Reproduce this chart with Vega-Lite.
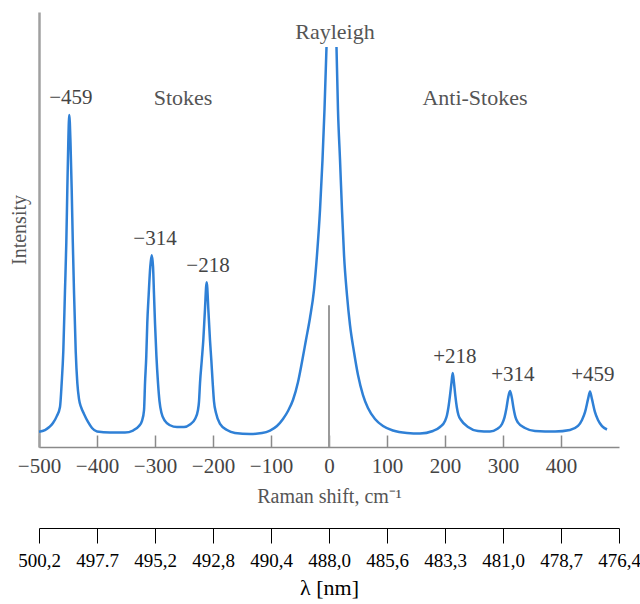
{
  "$schema": "https://vega.github.io/schema/vega-lite/v6.json",
  "width": 580,
  "height": 435,
  "autosize": {"type": "none"},
  "padding": {"left": 39, "top": 12, "right": 21, "bottom": 157},
  "background": "white",
  "config": {"view": {"stroke": null}},
  "datasets": {
    "spectrum": [
      {"seg":"a","s":-500,"v":3.52},{"seg":"a","s":-489.7,"v":3.9},{"seg":"a","s":-482.2,"v":4.6},{"seg":"a","s":-475.9,"v":5.5},
      {"seg":"a","s":-469.3,"v":7.1},{"seg":"a","s":-463.8,"v":9.2},{"seg":"a","s":-460.9,"v":14.7},{"seg":"a","s":-458.1,"v":22},
      {"seg":"a","s":-455.2,"v":36},{"seg":"a","s":-452.9,"v":47},{"seg":"a","s":-451.2,"v":59},{"seg":"a","s":-449.5,"v":70},
      {"seg":"a","s":-447.8,"v":76.3},{"seg":"a","s":-445.7,"v":70},{"seg":"a","s":-443.6,"v":59},{"seg":"a","s":-441.7,"v":47},
      {"seg":"a","s":-439.7,"v":36},{"seg":"a","s":-436.7,"v":22},{"seg":"a","s":-433.9,"v":14.7},{"seg":"a","s":-431.0,"v":11},
      {"seg":"a","s":-427.6,"v":9.2},{"seg":"a","s":-422.4,"v":7.6},{"seg":"a","s":-415.5,"v":5.75},{"seg":"a","s":-408.6,"v":4.37},
      {"seg":"a","s":-400,"v":3.56},{"seg":"a","s":-377.6,"v":3.33},{"seg":"a","s":-351.7,"v":3.33},{"seg":"a","s":-337.9,"v":3.79},
      {"seg":"a","s":-327.6,"v":4.83},{"seg":"a","s":-322.4,"v":6.0},{"seg":"a","s":-318.9,"v":8.5},{"seg":"a","s":-317.2,"v":14.7},
      {"seg":"a","s":-315.0,"v":21},{"seg":"a","s":-313.3,"v":28.5},{"seg":"a","s":-310.9,"v":35},{"seg":"a","s":-308.1,"v":41.5},
      {"seg":"a","s":-305.7,"v":44.1},{"seg":"a","s":-303.4,"v":41.5},{"seg":"a","s":-301.7,"v":35},{"seg":"a","s":-300,"v":28.5},
      {"seg":"a","s":-297.6,"v":21},{"seg":"a","s":-294.8,"v":14.7},{"seg":"a","s":-292.2,"v":10.5},{"seg":"a","s":-288.8,"v":7.8},
      {"seg":"a","s":-282.8,"v":6.0},{"seg":"a","s":-274.1,"v":5.0},{"seg":"a","s":-262.1,"v":4.6},{"seg":"a","s":-250,"v":4.6},
      {"seg":"a","s":-239.7,"v":5.17},{"seg":"a","s":-231,"v":6.44},{"seg":"a","s":-225.9,"v":8.5},{"seg":"a","s":-224.1,"v":10.5},
      {"seg":"a","s":-222.4,"v":14.7},{"seg":"a","s":-219.3,"v":20},{"seg":"a","s":-216.7,"v":24.6},{"seg":"a","s":-214.1,"v":31},
      {"seg":"a","s":-210.9,"v":37.9},{"seg":"a","s":-207.8,"v":31},{"seg":"a","s":-205.2,"v":24.6},{"seg":"a","s":-202.9,"v":20},
      {"seg":"a","s":-200.5,"v":14.7},{"seg":"a","s":-198.3,"v":10.5},{"seg":"a","s":-194.8,"v":7.8},{"seg":"a","s":-187.9,"v":5.29},
      {"seg":"a","s":-175.9,"v":3.91},{"seg":"a","s":-162.1,"v":3.22},{"seg":"a","s":-136.2,"v":2.99},{"seg":"a","s":-115.5,"v":3.22},
      {"seg":"a","s":-101.7,"v":3.79},{"seg":"a","s":-89.7,"v":4.83},{"seg":"a","s":-79.3,"v":6.44},{"seg":"a","s":-70.7,"v":8.28},
      {"seg":"a","s":-62.1,"v":10.8},{"seg":"a","s":-53.4,"v":14.94},{"seg":"a","s":-46.6,"v":19.54},{"seg":"a","s":-39.7,"v":24.6},
      {"seg":"a","s":-32.8,"v":29.66},{"seg":"a","s":-25.9,"v":36.09},{"seg":"a","s":-20.7,"v":44.14},{"seg":"a","s":-15.5,"v":54.48},
      {"seg":"a","s":-11.2,"v":66.0},{"seg":"a","s":-7.8,"v":77.47},{"seg":"a","s":-4.3,"v":91.95},
      {"seg":"b","s":12.9,"v":91.95},{"seg":"b","s":15.5,"v":77.47},{"seg":"b","s":19.0,"v":66.0},{"seg":"b","s":22.4,"v":54.48},
      {"seg":"b","s":25.9,"v":44.14},{"seg":"b","s":31.0,"v":34.94},{"seg":"b","s":36.2,"v":28.05},{"seg":"b","s":43.1,"v":21.84},
      {"seg":"b","s":50.0,"v":16.55},{"seg":"b","s":58.6,"v":11.95},{"seg":"b","s":67.2,"v":8.97},{"seg":"b","s":79.3,"v":6.44},
      {"seg":"b","s":93.1,"v":4.83},{"seg":"b","s":110.3,"v":3.79},{"seg":"b","s":134.5,"v":3.22},{"seg":"b","s":156.9,"v":3.1},
      {"seg":"b","s":179.3,"v":3.68},{"seg":"b","s":191.4,"v":4.6},{"seg":"b","s":200,"v":5.98},{"seg":"b","s":203.4,"v":7.3},
      {"seg":"b","s":206,"v":9.2},{"seg":"b","s":208.6,"v":11.8},{"seg":"b","s":211.2,"v":14.8},{"seg":"b","s":213.3,"v":17.0},
      {"seg":"b","s":215.5,"v":14.8},{"seg":"b","s":217.8,"v":11.8},{"seg":"b","s":220.3,"v":9.2},{"seg":"b","s":223.3,"v":7.3},
      {"seg":"b","s":227.6,"v":6.21},{"seg":"b","s":239.7,"v":4.6},{"seg":"b","s":256.9,"v":3.68},{"seg":"b","s":277.6,"v":3.56},
      {"seg":"b","s":289.7,"v":4.14},{"seg":"b","s":298.3,"v":5.29},{"seg":"b","s":302.6,"v":6.8},{"seg":"b","s":306.0,"v":8.97},
      {"seg":"b","s":309.1,"v":11.5},{"seg":"b","s":312.1,"v":12.87},{"seg":"b","s":315.0,"v":11.5},{"seg":"b","s":318.1,"v":8.97},
      {"seg":"b","s":321.6,"v":6.8},{"seg":"b","s":325.9,"v":5.6},{"seg":"b","s":337.9,"v":4.37},{"seg":"b","s":355.2,"v":3.68},
      {"seg":"b","s":389.7,"v":3.56},{"seg":"b","s":415.5,"v":3.91},{"seg":"b","s":429.3,"v":4.83},{"seg":"b","s":436.2,"v":6.2},
      {"seg":"b","s":441.4,"v":8.0},{"seg":"b","s":446.6,"v":11.0},{"seg":"b","s":450,"v":12.76},{"seg":"b","s":453.4,"v":11.0},
      {"seg":"b","s":458.6,"v":8.0},{"seg":"b","s":463.8,"v":6.2},{"seg":"b","s":470.7,"v":4.8},{"seg":"b","s":479.3,"v":4.02}
    ],
    "numbers": [
      {"s":-445,"v":80.2,"t":"−459"},
      {"s":-300,"v":47.8,"t":"−314"},
      {"s":-208.6,"v":41.6,"t":"−218"},
      {"s":217,"v":20.7,"t":"+218"},
      {"s":317,"v":16.6,"t":"+314"},
      {"s":455,"v":16.6,"t":"+459"}
    ],
    "words": [
      {"s":-251.7,"v":80.2,"t":"Stokes"},
      {"s":10.3,"v":95.4,"t":"Rayleigh"},
      {"s":251.7,"v":80.2,"t":"Anti-Stokes"}
    ]
  },
  "layer": [
    {
      "layer": [
        {
          "data": {"values": [{"s": 0, "v": 0, "v2": 32.6}]},
          "mark": {"type": "rule", "color": "#9a9a9a", "strokeWidth": 2},
          "encoding": {
            "x": {"field": "s", "type": "quantitative"},
            "y": {"field": "v", "type": "quantitative"},
            "y2": {"field": "v2"}
          }
        },
        {
          "data": {"name": "spectrum"},
          "mark": {"type": "line", "interpolate": "monotone", "color": "#2f80d6", "strokeWidth": 2.5},
          "encoding": {
            "detail": {"field": "seg"},
            "x": {
              "field": "s", "type": "quantitative",
              "scale": {"domain": [-500, 500], "nice": false, "zero": false},
              "axis": {
                "values": [-500, -400, -300, -200, -100, 0, 100, 200, 300, 400],
                "format": "d",
                "grid": false,
                "tickSize": -12,
                "tickColor": "#8a8a8a",
                "tickWidth": 1.5,
                "domainColor": "#8a8a8a",
                "domainWidth": 1.5,
                "labelFont": "Liberation Serif",
                "labelFontSize": 21,
                "labelColor": "#444444",
                "labelPadding": 20,
                "labelFlush": false,
                "labelOverlap": false,
                "title": "Raman shift, cm⁻¹",
                "titleFont": "Liberation Serif",
                "titleFontSize": 20,
                "titleFontWeight": "normal",
                "titleColor": "#555555",
                "titlePadding": 10
              }
            },
            "y": {
              "field": "v", "type": "quantitative",
              "scale": {"domain": [0, 100], "nice": false},
              "axis": {
                "grid": false,
                "ticks": false,
                "labels": false,
                "domainColor": "#a0a0a0",
                "domainWidth": 2.5,
                "title": "Intensity",
                "titleFont": "Liberation Serif",
                "titleFontSize": 20,
                "titleFontWeight": "normal",
                "titleColor": "#555555",
                "titlePadding": 10
              }
            }
          }
        },
        {
          "data": {"name": "numbers"},
          "mark": {"type": "text", "font": "Liberation Serif", "fontSize": 21, "color": "#444444", "baseline": "middle", "align": "center"},
          "encoding": {
            "x": {"field": "s", "type": "quantitative"},
            "y": {"field": "v", "type": "quantitative"},
            "text": {"field": "t"}
          }
        },
        {
          "data": {"name": "words"},
          "mark": {"type": "text", "font": "Liberation Serif", "fontSize": 22, "color": "#555555", "baseline": "middle", "align": "center"},
          "encoding": {
            "x": {"field": "s", "type": "quantitative"},
            "y": {"field": "v", "type": "quantitative"},
            "text": {"field": "t"}
          }
        }
      ]
    },
    {
      "data": {"values": [{"w": -500}, {"w": 500}]},
      "mark": {"type": "point", "opacity": 0},
      "encoding": {
        "x": {
          "field": "w", "type": "quantitative",
          "scale": {"domain": [-500, 500], "nice": false, "zero": false},
          "axis": {
            "orient": "bottom",
            "offset": 81,
            "values": [-500, -400, -300, -200, -100, 0, 100, 200, 300, 400, 500],
            "labelExpr": "['500,2','497.7','495,2','492,8','490,4','488,0','485,6','483,3','481,0','478,7','476,4'][round((datum.value+500)/100)]",
            "grid": false,
            "tickSize": 15,
            "tickColor": "#000000",
            "tickWidth": 1,
            "domainColor": "#000000",
            "domainWidth": 1,
            "labelFont": "Liberation Serif",
            "labelFontSize": 19,
            "labelColor": "#000000",
            "labelPadding": 8,
            "labelFlush": false,
            "labelOverlap": false,
            "title": "λ  [nm]",
            "titleFont": "Liberation Serif",
            "titleFontSize": 22,
            "titleFontWeight": "normal",
            "titleColor": "#000000",
            "titlePadding": 7
          }
        }
      }
    }
  ],
  "resolve": {"scale": {"x": "independent"}, "axis": {"x": "independent"}}
}
